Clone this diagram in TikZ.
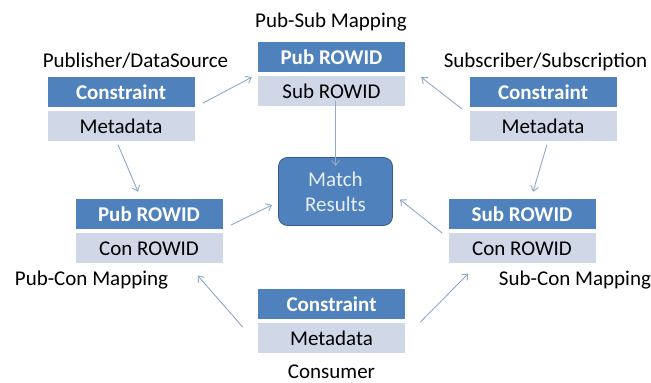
\documentclass[tikz,border=0pt]{standalone}
\usepackage{fontspec}
\setmainfont{Carlito}
\usetikzlibrary{positioning,arrows.meta}

\definecolor{hdrblue}{RGB}{79,129,189}
\definecolor{rowgray}{RGB}{208,216,232}
\definecolor{matchedge}{RGB}{56,93,138}
\definecolor{matchtext}{RGB}{232,238,247}
\definecolor{arrowgray}{RGB}{143,168,200}

\tikzset{
    hcell/.style={fill=hdrblue, text=white, font=\fontsize{21}{24}\selectfont\bfseries,
        minimum width=147pt, minimum height=30pt, inner sep=0pt},
    bcell/.style={fill=rowgray, text=black, font=\fontsize{21}{24}\selectfont,
        minimum width=147pt, minimum height=30pt, inner sep=0pt},
    lbl/.style={anchor=base, inner sep=0pt, font=\fontsize{21}{24}\selectfont},
    flow/.style={draw=arrowgray, line width=0.9pt, -{Straight Barb[length=5pt,width=8pt]}}
}

\begin{document}
\begin{tikzpicture}[x=1pt, y=-1pt]

    \useasboundingbox (0, 0) rectangle (651, 383);

    \foreach \n/\x/\y/\top/\bot in {pub/121/92/Constraint/Metadata, ps/331.5/57/Pub ROWID/Sub ROWID, sub/543/92/Constraint/Metadata, pc/149/214/Pub ROWID/Con ROWID, sc/522/214/Sub ROWID/Con ROWID, con/331.5/304/Constraint/Metadata}
    {
        \node[hcell] (\n T) at (\x, \y) {\top};
        \node[bcell, below=4pt of \n T] (\n B) {\bot};
    }

    \node[draw=matchedge, line width=0.8pt, fill=hdrblue, rounded corners=9pt, minimum width=114pt, minimum height=68pt,
        text=matchtext, align=center, font=\fontsize{21}{25}\selectfont] (match) at (335.5, 191.5) {Match\\Results};

    \node[lbl] (pubL) at (135.5, 67) {Publisher/DataSource};
    \node[lbl] (psL) at (331, 27) {Pub-Sub Mapping};
    \node[lbl] (subL) at (545.5, 67) {Subscriber/Subscription};
    \node[lbl] (pcL) at (91.5, 285) {Pub-Con Mapping};
    \node[lbl] (scL) at (575, 285) {Sub-Con Mapping};
    \node[lbl] (conL) at (331.5, 378) {Consumer};

    \draw[flow] ([shift={(8, -4)}]pubT.south east) -- ([shift={(-6, 1)}]psB.north west);
    \draw[flow] ([shift={(-3, 3)}]pubB.south) -- ([shift={(-11, -7)}]pcT.north);
    \draw[flow] ([yshift=6]match.north |- psB.south) -- ([yshift=-9]match.north);
    \draw[flow] ([shift={(-7, 2)}]subT.south west) -- ([shift={(16, 1)}]psB.north east);
    \draw[flow] ([shift={(4, 3)}]subB.south) -- ([shift={(11, -7)}]scT.north);
    \draw[flow] ([shift={(8, -4)}]pcT.south east) -- ([shift={(-6, -21)}]match.south west);
    \draw[flow] ([shift={(-6, 0)}]scB.north west) -- ([shift={(7, 8)}]match.east);
    \draw[flow] ([shift={(-15, 4)}]conB.north west) -- ([shift={(-25, 12)}]pcB.south east);
    \draw[flow] ([shift={(15, -1)}]conB.north east) -- ([shift={(20, 10)}]scB.south west);

\end{tikzpicture}
\end{document}
